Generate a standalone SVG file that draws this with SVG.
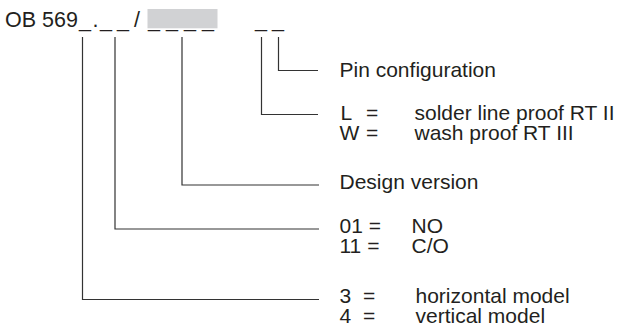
<svg xmlns="http://www.w3.org/2000/svg" width="619" height="331" viewBox="0 0 619 331">
<style>
text{font-family:"Liberation Sans",Arial,sans-serif;fill:#231f20;font-size:21px}
.t{font-size:21.5px}
.c{fill:none;stroke:#333;stroke-width:1.2}
</style>
<rect width="619" height="331" fill="#fff"/>
<g id="code">
<rect x="147.5" y="9" width="70" height="19.3" fill="#d1d2d4"/>
<text class="t" y="27"><tspan x="5">OB 569</tspan><tspan x="79">_</tspan><tspan x="92.5">.</tspan><tspan x="100">_</tspan><tspan x="117">_</tspan><tspan x="134">/</tspan><tspan x="148">_</tspan><tspan x="166">_</tspan><tspan x="184">_</tspan><tspan x="202">_</tspan><tspan x="255">_</tspan><tspan x="272">_</tspan></text>
</g>
<g id="connectors">
<path class="c" d="M278.5 37V70.5H318"/>
<path class="c" d="M261.5 37V114.5H318"/>
<path class="c" d="M182 37V185H319"/>
<path class="c" d="M115 37V229H319"/>
<path class="c" d="M82.5 37V299.5H319"/>
</g>
<g id="pin">
<text x="339.5" y="76.5">Pin configuration</text>
</g>
<g id="proof">
<text x="340.5" y="119.5">L</text><text x="366" y="119.5">=</text><text x="414.5" y="119.5">solder line proof RT II</text>
<text x="339.5" y="140">W</text><text x="366" y="140">=</text><text x="414.5" y="140">wash proof RT III</text>
</g>
<g id="design">
<text x="339.5" y="188.5">Design version</text>
</g>
<g id="contact">
<text x="339.5" y="232.5">01 =</text><text x="411.5" y="232.5">NO</text>
<text x="339.5" y="252.5">11 =</text><text x="411.5" y="252.5">C/O</text>
</g>
<g id="model">
<text x="339.5" y="302.5">3</text><text x="363" y="302.5">=</text><text x="415.5" y="302.5">horizontal model</text>
<text x="339.5" y="323">4</text><text x="363" y="323">=</text><text x="415.5" y="323">vertical model</text>
</g>
</svg>
